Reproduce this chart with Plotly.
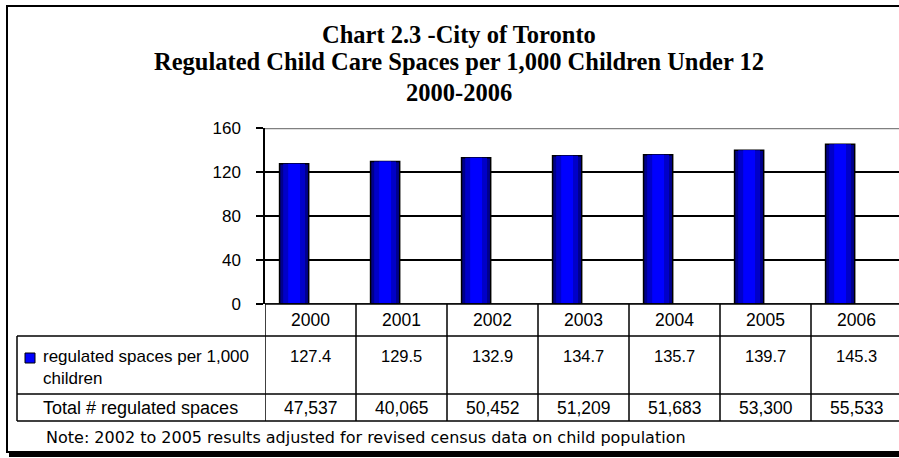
import plotly.graph_objects as go

years = ["2000", "2001", "2002", "2003", "2004", "2005", "2006"]
per_1000 = [127.4, 129.5, 132.9, 134.7, 135.7, 139.7, 145.3]
total_spaces = [47537, 40065, 50452, 51209, 51683, 53300, 55533]
y_ticks = [0, 40, 80, 120, 160]

title_lines = ["Chart 2.3 -City of Toronto",
               "Regulated Child Care Spaces per 1,000 Children Under 12",
               "2000-2006"]
series_label = "regulated spaces per 1,000<br>children"
total_label = "Total # regulated spaces"
note = "Note: 2002 to 2005 results adjusted for revised census data on child population"

W, H = 899, 458


def px(x):
    return x / W


def py(y):
    return 1 - y / H


SANS = "Liberation Sans, Arial, sans-serif"
WIDE = "DejaVu Sans, Verdana, sans-serif"
SERIF = "Liberation Serif, Times New Roman, serif"

fig = go.Figure()

layers = [
    dict(color="#00008C", width=0.32, offset=-0.34, line=dict(color="black", width=1.5)),
    dict(color="#0000C8", width=0.24, offset=-0.30, line=dict(width=0)),
    dict(color="#0000FF", width=0.13, offset=-0.245, line=dict(width=0)),
]
for ly in layers:
    fig.add_trace(go.Bar(
        x=years, y=per_1000, width=ly["width"], offset=ly["offset"],
        marker=dict(color=ly["color"], line=ly["line"]),
        showlegend=False, hoverinfo="skip"))

plot_left, plot_top, plot_bottom = 265, 128, 304
col_w = 91.0
right_range = -0.5 + (W - plot_left) / col_w

fig.update_layout(
    template="none",
    width=W, height=H, autosize=False,
    margin=dict(l=0, r=0, t=0, b=0, pad=0),
    paper_bgcolor="white", plot_bgcolor="white",
    barmode="overlay", showlegend=False,
    xaxis=dict(type="category", domain=[px(plot_left), 1], automargin=False,
               range=[-0.5, right_range], showticklabels=False,
               showgrid=False, zeroline=False, showline=False, ticks=""),
    yaxis=dict(domain=[py(plot_bottom), py(plot_top)], range=[0, 160], automargin=False,
               tickvals=y_ticks, showgrid=True, gridcolor="black", gridwidth=1.5,
               zeroline=False, showline=True, linecolor="black", linewidth=1.5,
               ticks="outside", ticklen=7, tickcolor="black", tickwidth=1.5,
               ticklabelstandoff=12,
               tickfont=dict(family=SANS, size=17, color="black")),
    font=dict(family=SANS, color="black"),
)

shapes = []
shapes.append(dict(type="line", xref="paper", yref="y", x0=px(plot_left), x1=1,
                   y0=160, y1=160, line=dict(color="#808080", width=2.5)))
shapes.append(dict(type="line", xref="paper", yref="y", x0=px(plot_left - 7), x1=1,
                   y0=0, y1=0, line=dict(color="black", width=1.5)))

row_tops = [304, 336, 394, 421]
table_left = 17
for i, yy in enumerate(row_tops):
    x0 = plot_left if i == 0 else table_left
    shapes.append(dict(type="line", xref="paper", yref="paper", x0=px(x0), x1=1.01,
                       y0=py(yy), y1=py(yy), line=dict(color="black", width=1.5)))
for i in range(len(years) + 1):
    shapes.append(dict(type="line", xref="x", yref="paper", x0=i - 0.5, x1=i - 0.5,
                       y0=py(304), y1=py(421), line=dict(color="black", width=1.5)))
shapes.append(dict(type="line", xref="paper", yref="paper", x0=px(table_left), x1=px(table_left),
                   y0=py(336), y1=py(421), line=dict(color="black", width=1.5)))
shapes.append(dict(type="rect", xref="paper", yref="paper", x0=px(25), x1=px(35),
                   y0=py(363), y1=py(353), fillcolor="#0000FF",
                   line=dict(color="black", width=1)))
shapes.append(dict(type="rect", xref="paper", yref="paper", x0=px(7), x1=1.02,
                   y0=py(452), y1=py(6), line=dict(color="black", width=2)))
shapes.append(dict(type="line", xref="paper", yref="paper", x0=px(9), x1=1.02,
                   y0=py(455), y1=py(455), line=dict(color="black", width=4)))
fig.update_layout(shapes=shapes)

ann = []
title_y = [34, 62, 92]
for t, yy in zip(title_lines, title_y):
    ann.append(dict(text=f"<b>{t}</b>", xref="paper", yref="paper", x=px(459), y=py(yy),
                    xanchor="center", yanchor="middle", showarrow=False,
                    font=dict(family=SERIF, size=24.5, color="black")))
for i, yr in enumerate(years):
    ann.append(dict(text=yr, xref="x", yref="paper", x=i, y=py(320),
                    xanchor="center", yanchor="middle", showarrow=False,
                    font=dict(family=SANS, size=17.5)))
    ann.append(dict(text=f"{per_1000[i]:.1f}", xref="x", yref="paper", x=i, y=py(356),
                    xanchor="center", yanchor="middle", showarrow=False,
                    font=dict(family=SANS, size=16.5)))
    ann.append(dict(text=f"{total_spaces[i]:,}", xref="x", yref="paper", x=i, y=py(408),
                    xanchor="center", yanchor="middle", showarrow=False,
                    font=dict(family=SANS, size=17.5)))
ann.append(dict(text=series_label, xref="paper", yref="paper", x=px(41), y=py(345),
                xanchor="left", yanchor="top", align="left", showarrow=False,
                font=dict(family=SANS, size=17)))
ann.append(dict(text=total_label, xref="paper", yref="paper", x=px(41), y=py(408),
                xanchor="left", yanchor="middle", showarrow=False,
                font=dict(family=SANS, size=18)))
ann.append(dict(text=note, xref="paper", yref="paper", x=px(44), y=py(437),
                xanchor="left", yanchor="middle", showarrow=False,
                font=dict(family=WIDE, size=16)))
fig.update_layout(annotations=ann)

fig.write_html("out.html", config={"displayModeBar": False, "responsive": False},
               post_script="document.body.style.margin='0';document.body.style.overflow='hidden';")
